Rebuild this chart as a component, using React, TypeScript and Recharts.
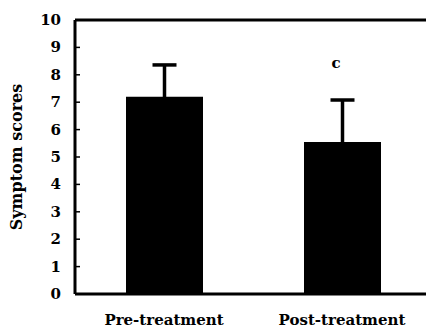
import React from 'react';
import {
  ComposedChart,
  Bar,
  Line,
  XAxis,
  YAxis,
  ErrorBar,
  ReferenceLine,
  LabelList,
  Label,
} from 'recharts';

const categories = ['Pre-treatment', 'Post-treatment'];
const meanScores = [7.2, 5.55];
const errorValues = [1.16, 1.53];
const notes = ['', 'c'];
const noteLevels: (number | null)[] = [null, 8.43];
const yTicks = [0, 1, 2, 3, 4, 5, 6, 7, 8, 9, 10];

const data = categories.map((name, i) => ({
  name,
  score: meanScores[i],
  err: errorValues[i],
  note: notes[i],
  noteY: noteLevels[i],
}));

const FONT = '"DejaVu Serif", serif';
const Y_TICK_MARGIN = 14;

const YTick = (props: any) => {
  const { x, y, payload } = props;
  const axisX = x + Y_TICK_MARGIN;
  return (
    <g>
      <line x1={axisX} x2={axisX + 5} y1={y} y2={y} stroke="#000" strokeWidth={1.5} />
      <text
        x={x}
        y={y}
        textAnchor="end"
        dominantBaseline="central"
        fontFamily={FONT}
        fontWeight="bold"
        fontSize={15}
        fill="#000"
      >
        {payload.value}
      </text>
    </g>
  );
};

const XTick = (props: any) => {
  const { x, y, payload } = props;
  return (
    <text
      x={x}
      y={y}
      textAnchor="middle"
      dominantBaseline="alphabetic"
      fontFamily={FONT}
      fontWeight="bold"
      fontSize={15}
      fill="#000"
    >
      {payload.value}
    </text>
  );
};

const NoteLabel = (props: any) => {
  const { x, y, value } = props;
  if (!value) return null;
  return (
    <text
      x={x - 6}
      y={y}
      textAnchor="middle"
      dominantBaseline="central"
      fontFamily={FONT}
      fontWeight="bold"
      fontSize={15}
      fill="#000"
    >
      {value}
    </text>
  );
};

const YLabel = (props: any) => {
  const { viewBox } = props;
  const cx = viewBox.x + 16.5;
  const cy = viewBox.y + viewBox.height / 2;
  return (
    <text
      x={cx}
      y={cy}
      transform={`rotate(-90 ${cx} ${cy})`}
      textAnchor="middle"
      dominantBaseline="central"
      fontFamily={FONT}
      fontWeight="bold"
      fontSize={16}
      fill="#000"
    >
      Symptom scores
    </text>
  );
};

export default function App() {
  return (
    <div
      style={{
        position: 'absolute',
        left: 0,
        top: 0,
        width: 426,
        height: 329,
        overflow: 'hidden',
        background: '#fff',
      }}
    >
      <ComposedChart
        width={431}
        height={329}
        data={data}
        margin={{ top: 20, right: 0, bottom: 0, left: 0 }}
      >
        <XAxis
          dataKey="name"
          height={35}
          tickLine={false}
          tickSize={0}
          tickMargin={31}
          axisLine={{ stroke: '#000', strokeWidth: 3 }}
          tick={<XTick />}
          interval={0}
        />
        <YAxis
          width={75}
          domain={[0, 10]}
          ticks={yTicks}
          interval={0}
          tickLine={false}
          tickSize={0}
          tickMargin={Y_TICK_MARGIN}
          axisLine={{ stroke: '#000', strokeWidth: 3 }}
          tick={<YTick />}
        >
          <Label content={<YLabel />} />
        </YAxis>
        <ReferenceLine y={10} stroke="#000" strokeWidth={3} />
        <Bar dataKey="score" fill="#000" barSize={77} isAnimationActive={false}>
          <ErrorBar dataKey="err" width={12} strokeWidth={3.5} stroke="#000" />
        </Bar>
        <Line
          dataKey="noteY"
          stroke="none"
          dot={false}
          activeDot={false}
          isAnimationActive={false}
        >
          <LabelList dataKey="note" content={<NoteLabel />} />
        </Line>
      </ComposedChart>
    </div>
  );
}
